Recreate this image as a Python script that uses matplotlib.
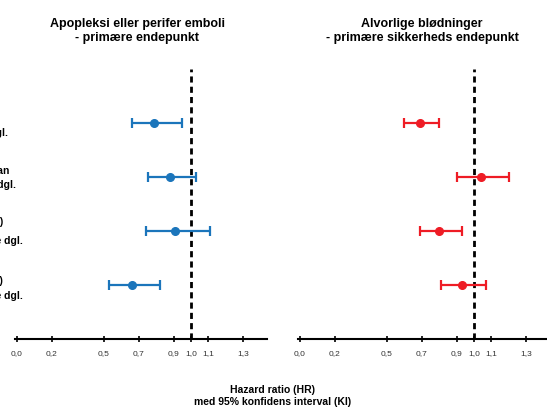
import numpy as np
import matplotlib.pyplot as plt

plt.rcParams['font.family'] = ['Liberation Sans', 'DejaVu Sans']

# data
rows = [4, 3, 2, 1]
stroke_hr = np.array([0.79, 0.88, 0.91, 0.66])
stroke_lo = np.array([0.66, 0.75, 0.74, 0.53])
stroke_hi = np.array([0.95, 1.03, 1.11, 0.82])

bleed_hr = np.array([0.69, 1.04, 0.80, 0.93])
bleed_lo = np.array([0.60, 0.90, 0.69, 0.81])
bleed_hi = np.array([0.80, 1.20, 0.93, 1.07])

ticks = [0.0, 0.2, 0.5, 0.7, 0.9, 1.0, 1.1, 1.3]
tick_labels = ["0,0", "0,2", "0,5", "0,7", "0,9", "1,0", "1,1", "1,3"]

titles = ["Apopleksi eller perifer emboli\n- primære endepunkt",
          "Alvorlige blødninger\n- primære sikkerheds endepunkt"]

# row labels (cut off at the left edge in the original)
row_labels = [("5 mg 2 gange dgl.", 8, 133),
              ("Rivaroxaban", 10, 171),
              ("20 mg 1 gang dgl.", 16, 185),
              ("Dabigatran (110 mg)", 3, 222),
              ("2 gange dgl.", 23, 241),
              ("Dabigatran (150 mg)", 3, 281),
              ("2 gange dgl.", 23, 296)]

W, H = 547, 410
fig = plt.figure(figsize=(W / 100, H / 100), dpi=100)

px = 174.0  # pixels per unit on x
panels = [
    (15, 267, 17, stroke_hr, stroke_lo, stroke_hi, "#1b75bb"),
    (298, 547, 300, bleed_hr, bleed_lo, bleed_hi, "#ee1c25"),
]
top, bottom = 70, 340

for i, (x0, x1, zero, hr, lo, hi, col) in enumerate(panels):
    ax = fig.add_axes([x0 / W, (H - bottom) / H, (x1 - x0) / W, (bottom - top) / H])
    ax.set_xlim((x0 - zero) / px, (x1 - zero) / px)
    ax.set_ylim(0, 5)
    ax.axvline(1.0, color='k', lw=2, ls=(0, (2.2, 1.5)), zorder=1)
    ax.errorbar(hr, rows, xerr=[hr - lo, hi - hr], fmt='o', color=col,
                ms=5.5, capsize=3.5, elinewidth=1.6, capthick=1.6, zorder=3)
    for s in ['top', 'right', 'left']:
        ax.spines[s].set_visible(False)
    ax.spines['bottom'].set_linewidth(1.5)
    ax.set_yticks([])
    ax.set_xticks(ticks)
    ax.set_xticklabels(tick_labels, fontsize=6, color='#333333')
    ax.tick_params(axis='x', direction='inout', length=4, width=1.2, pad=5)
    cx = (x0 + x1) / 2 if i == 0 else 422
    if i == 0:
        cx = 137
    fig.text(cx / W, 1 - 31 / H, titles[i], ha='center', va='center',
             fontsize=9, fontweight='bold', linespacing=1.25)

for txt, xe, yc in row_labels:
    fig.text(xe / W, 1 - yc / H, txt, ha='right', va='center',
             fontsize=7.5, fontweight='bold')

fig.text(273 / W, 1 - 396 / H, "Hazard ratio (HR)\nmed 95% konfidens interval (KI)",
         ha='center', va='center', fontsize=7.5, fontweight='bold', linespacing=1.15)

fig.savefig("out.png", dpi=100)
